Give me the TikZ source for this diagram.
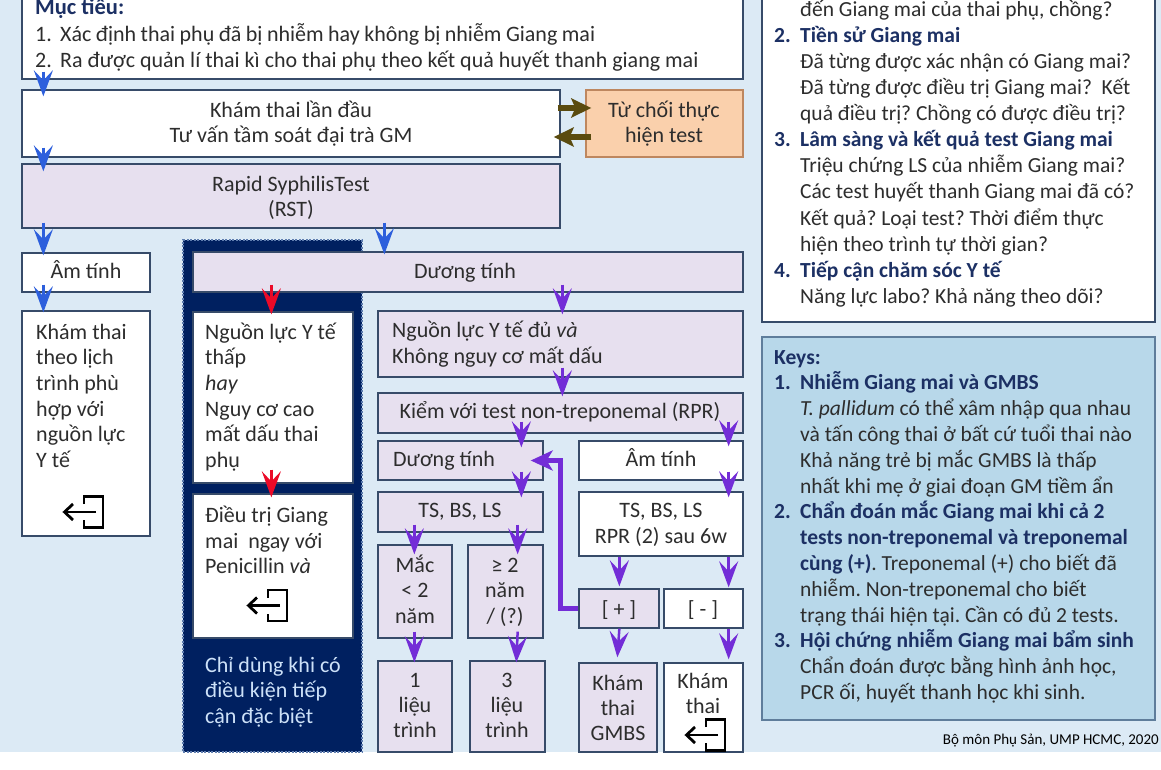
\documentclass[tikz,border=0pt]{standalone}
\usepackage{fontspec}
\setmainfont{Carlito}
\usetikzlibrary{arrows.meta,fit}
\frenchspacing
\definecolor{bg}{RGB}{220,234,245}
\definecolor{lav}{RGB}{231,224,239}
\definecolor{bord}{RGB}{55,75,105}
\definecolor{orangef}{RGB}{250,208,172}
\definecolor{orangeb}{RGB}{190,135,95}
\definecolor{navy}{RGB}{0,32,96}
\definecolor{navyb}{RGB}{95,125,175}
\definecolor{navytxt}{RGB}{205,225,248}
\definecolor{keysf}{RGB}{184,216,234}
\definecolor{keysb}{RGB}{95,125,155}
\definecolor{hd}{RGB}{28,48,100}
\definecolor{txt}{RGB}{45,45,45}
\definecolor{bluea}{RGB}{45,95,220}
\definecolor{purpa}{RGB}{115,45,215}
\definecolor{reda}{RGB}{235,10,40}
\definecolor{olive}{RGB}{90,75,15}
\newcommand\fs{\fontsize{22}{26}\selectfont}
\newcommand\fr{\fontsize{21.5}{26}\selectfont}
\newcounter{txn}
\newcommand\txl[4][]{\stepcounter{txn}\node[tline,#1] (t\arabic{txn}) at (#2,#3) {#4};}
\newcommand\txc[4][]{\stepcounter{txn}\node[tline,anchor=base,#1] (t\arabic{txn}) at (#2,#3) {#4};}
\tikzset{
  box/.style={draw=bord, line width=1.3pt, inner sep=0pt, fill=white},
  lbox/.style={box, fill=lav},
  tline/.style={anchor=base west, inner sep=0pt, font=\fs, text=txt},
  rt/.style={font=\fr},
  hdb/.style={font=\fr\bfseries, text=hd},
  arrbase/.style={line width=2.5pt, -{Stealth[length=26pt,width=19pt,inset=10pt]}},
  barr/.style={arrbase, draw=bluea},
  parr/.style={arrbase, draw=purpa},
  rarr/.style={arrbase, draw=reda},
  oarr/.style={draw=olive, line width=6pt, -{Stealth[length=20pt,width=19pt,inset=4pt]}},
  pthick/.style={draw=purpa, line width=5.5pt, -{Stealth[length=22pt,width=20pt,inset=6pt]}},
  exiticon/.pic={
    \draw[line width=2.8pt, line join=miter] (0,-8) -- (0,-15.5) -- (19,-15.5) -- (19,15.5) -- (0,15.5) -- (0,8);
    \draw[line width=2.8pt] (12,0) -- (-19,0);
    \draw[line width=2.8pt, line join=miter] (-11,-8) -- (-19.5,0) -- (-11,8);
  }
}
\begin{document}
\begin{tikzpicture}[x=1pt,y=-1pt]
\useasboundingbox (0,0) rectangle (1161,770);
\clip (0,0) rectangle (1161,770);
\fill[bg] (0,0) rectangle (1161,752);

% ---------- boxes ----------
\node[box, fit={(22,-40)(743,79)}] (mt) {};
\node[box, fit={(22,90)(560,157)}] (kham) {};
\node[box, fill=orangef, draw=orangeb, fit={(586,90)(743,157)}] (tuchoi) {};
\node[lbox, fit={(22,164)(560,228)}] (rst) {};
\node[box, fit={(22,253)(150,292)}] (am1) {};
\node[box, fit={(22,311)(150,536)}] (khamlich) {};
\node[fill=navy, draw=navyb, line width=1.2pt, dash pattern=on 2pt off 1.5pt, inner sep=0pt, fit={(183,240)(362,752)}] (navy) {};
\node[lbox, fit={(193,252)(743,292)}] (duong1) {};
\node[box, fit={(193,312)(353,483)}] (thap) {};
\node[box, fit={(193,494)(353,638)}] (dieutri) {};
\node[lbox, fit={(378,311)(743,377)}] (du) {};
\node[lbox, fit={(378,393)(743,433)}] (kiem) {};
\node[lbox, fit={(378,441)(543,480)}] (duong2) {};
\node[box, fit={(579,441)(743,480)}] (am2) {};
\node[lbox, fit={(378,492)(543,532)}] (ts1) {};
\node[box, fit={(579,492)(743,556)}] (ts2) {};
\node[lbox, fit={(378,545)(452,638)}] (mac) {};
\node[lbox, fit={(468,545)(543,638)}] (ge2) {};
\node[lbox, fit={(579,589)(659,628)}] (plus) {};
\node[box, fit={(664,589)(743,628)}] (minus) {};
\node[lbox, fit={(378,661)(452,752)}] (l1) {};
\node[lbox, fit={(470,661)(545,752)}] (l3) {};
\node[lbox, fit={(579,663)(657,752)}] (gmbs) {};
\node[box, fit={(664,663)(743,752)}] (kt) {};
\node[box, fit={(762,-40)(1155,322)}] (rtop) {};
\node[box, fill=keysf, draw=keysb, fit={(762,337)(1155,720)}] (keys) {};
\fill[white] (0,753) rectangle (1161,770);

% ---------- texts ----------
\txl[font=\fontsize{22.5}{26}\selectfont\bfseries, text=hd]{35}{15}{Mục tiêu:}
\txl{35}{42}{1.}\txl{60}{42}{\makebox[535pt][s]{Xác định thai phụ đã bị nhiễm hay không bị nhiễm Giang mai}}
\txl{35}{68}{2.}\txl{60}{68}{Ra được quản lí thai kì cho thai phụ theo kết quả huyết thanh giang mai}

\txc{291}{118}{Khám thai lần đầu}
\txc{291}{143}{Tư vấn tầm soát đại trà GM}
\txc{664}{118}{Từ chối thực}
\txc{664}{143}{hiện test}
\txc{291}{192}{Rapid SyphilisTest}
\txc{291}{216}{(RST)}
\txc{86}{278}{Âm tính}

\txl{36}{339}{Khám thai}
\txl{36}{364.7}{theo lịch}
\txl{36}{390.4}{trình phù}
\txl{36}{416.1}{hợp với}
\txl{36}{441.8}{nguồn lực}
\txl{36}{467.5}{Y tế}

\txc{465}{278}{Dương tính}
\txl{205}{339}{Nguồn lực Y tế}
\txl{205}{364.7}{thấp}
\txl{205}{390.4}{\itshape hay}
\txl{205}{416.1}{Nguy cơ cao}
\txl{205}{441.8}{mất dấu thai}
\txl{205}{467.5}{phụ}

\txl{205}{522}{Điều trị Giang}
\txl{205}{548}{mai~ ngay với}
\txl{205}{573}{Penicillin \textit{và}}
\txl[text=navytxt]{205}{672}{Chỉ dùng khi có}
\txl[text=navytxt]{205}{697}{điều kiện tiếp}
\txl[text=navytxt]{205}{723}{cận đặc biệt}

\txl{392}{337}{Nguồn lực Y tế đủ \textit{và}}
\txl{392}{363}{Không nguy cơ mất dấu}
\txc{560}{418}{Kiểm với test non-treponemal (RPR)}
\txl{393}{466}{Dương tính}
\txc{661}{466}{Âm tính}
\txc{460}{517}{TS, BS, LS}
\txc{661}{517}{TS, BS, LS}
\txc{661}{543}{RPR (2) sau 6w}
\txc{415}{572}{Mắc}
\txc{415}{597}{< 2}
\txc{415}{623}{năm}
\txc{505}{572}{≥ 2}
\txc{505}{597}{năm}
\txc{505}{623}{/ (?)}
\txc{619}{616}{[ + ]}
\txc{703}{616}{[ - ]}
\txc{415}{687}{1}
\txc{415}{712}{liệu}
\txc{415}{737}{trình}
\txc{507}{687}{3}
\txc{507}{712}{liệu}
\txc{507}{737}{trình}
\txc{618}{690}{Khám}
\txc{618}{715}{thai}
\txc{618}{740}{GMBS}
\txc{703}{688}{Khám}
\txc{703}{713}{thai}

% right top panel
\txl[rt]{800}{17}{đến Giang mai của thai phụ, chồng?}
\txl[hdb]{774}{43}{2.}\txl[hdb]{800}{43}{Tiền sử Giang mai}
\txl[rt]{800}{69}{Đã từng được xác nhận có Giang mai?}
\txl[rt]{800}{95}{Đã từng được điều trị Giang mai?\ \ Kết}
\txl[rt]{800}{121}{quả điều trị? Chồng có được điều trị?}
\txl[hdb]{774}{147}{3.}\txl[hdb]{800}{147}{Lâm sàng và kết quả test Giang mai}
\txl[rt]{800}{173}{Triệu chứng LS của nhiễm Giang mai?}
\txl[rt]{800}{199}{Các test huyết thanh Giang mai đã có?}
\txl[rt]{800}{225}{Kết quả? Loại test? Thời điểm thực}
\txl[rt]{800}{251}{hiện theo trình tự thời gian?}
\txl[hdb]{774}{277}{4.}\txl[hdb]{800}{277}{Tiếp cận chăm sóc Y tế}
\txl[rt]{800}{303}{Năng lực labo? Khả năng theo dõi?}

% keys
\txl[hdb]{774}{364}{Keys:}
\txl[hdb]{774}{389.8}{1.}\txl[hdb]{800}{389.8}{Nhiễm Giang mai và GMBS}
\txl[rt]{800}{415.6}{\textit{T. pallidum} có thể xâm nhập qua nhau}
\txl[rt]{800}{441.4}{và tấn công thai ở bất cứ tuổi thai nào}
\txl[rt]{800}{467.2}{Khả năng trẻ bị mắc GMBS là thấp}
\txl[rt]{800}{493}{nhất khi mẹ ở giai đoạn GM tiềm ẩn}
\txl[hdb]{774}{518.8}{2.}\txl[hdb]{800}{518.8}{Chẩn đoán mắc Giang mai khi cả 2}
\txl[hdb]{800}{544.6}{tests non-treponemal và treponemal}
\txl[rt]{800}{570.4}{\textcolor{hd}{\bfseries cùng (+)}. Treponemal (+) cho biết đã}
\txl[rt]{800}{596.2}{nhiễm. Non-treponemal cho biết}
\txl[rt]{800}{622}{trạng thái hiện tại. Cần có đủ 2 tests.}
\txl[hdb]{774}{647.8}{3.}\txl[hdb]{800}{647.8}{Hội chứng nhiễm Giang mai bẩm sinh}
\txl[rt]{800}{673.6}{Chẩn đoán được bằng hình ảnh học,}
\txl[rt]{800}{699.4}{PCR ối, huyết thanh học khi sinh.}

\txl[anchor=base east, font=\fontsize{15}{18}\selectfont, text=black]{1159}{744}{Bộ môn Phụ Sản, UMP HCMC, 2020}

% ---------- icons ----------
\pic (ic1) at (84,512) {exiticon};
\pic (ic2) at (268,605.5) {exiticon};
\pic (ic3) at (706,735) {exiticon};

% ---------- arrows ----------
\draw[barr] ([xshift=22pt,yshift=8pt]mt.south west) -- ([xshift=22pt,yshift=-7pt]kham.north west);
\draw[barr] ([xshift=22pt,yshift=10pt]kham.south west) -- ([xshift=22pt,yshift=-8pt]rst.north west);
\draw[barr] ([xshift=22pt,yshift=6pt]rst.south west) -- ([xshift=22pt,yshift=-3pt]am1.north west);
\draw[barr] ([xshift=363pt,yshift=6pt]rst.south west) -- ([xshift=192pt,yshift=-3pt]duong1.north west);
\draw[barr] ([xshift=22pt,yshift=8pt]am1.south west) -- ([xshift=22pt,yshift=-2pt]khamlich.north west);

\draw[oarr] ([yshift=15.5pt,xshift=-3pt]kham.east) -- ([yshift=15.5pt,xshift=6pt]tuchoi.west);
\draw[oarr] ([yshift=-13.5pt,xshift=6pt]tuchoi.west) -- ([yshift=-13.5pt,xshift=-7pt]kham.east);

\draw[rarr] ([xshift=79pt,yshift=8pt]duong1.south west) -- ([xshift=79pt,yshift=-3pt]thap.north west);
\draw[rarr] ([xshift=79pt,yshift=14pt]thap.south west) -- ([xshift=79pt,yshift=-4pt]dieutri.north west);

\draw[parr] ([xshift=370pt,yshift=8pt]duong1.south west) -- ([xshift=185pt,yshift=-4pt]du.north west);
\draw[parr] ([xshift=185pt,yshift=10pt]du.south west) -- ([xshift=185pt,yshift=-4pt]kiem.north west);
\draw[parr] ([xshift=144pt,yshift=12pt]kiem.south west) -- ([xshift=144pt,yshift=-7pt]duong2.north west);
\draw[parr] ([xshift=-15pt,yshift=12pt]kiem.south east) -- ([xshift=-15pt,yshift=-6pt]am2.north east);
\draw[parr] ([xshift=144pt,yshift=9pt]duong2.south west) -- ([xshift=144pt,yshift=-6pt]ts1.north west);
\draw[parr] ([xshift=-15pt,yshift=9pt]am2.south east) -- ([xshift=-15pt,yshift=-6pt]ts2.north east);
\draw[parr] ([xshift=37pt,yshift=8pt]ts1.south west) -- ([xshift=37pt,yshift=-10pt]mac.north west);
\draw[parr] ([xshift=-26pt,yshift=8pt]ts1.south east) -- ([xshift=-26pt,yshift=-10pt]ge2.north east);
\draw[parr] ([xshift=37pt,yshift=7pt]mac.south west) -- ([xshift=37pt,yshift=-2pt]l1.north west);
\draw[parr] ([xshift=-26pt,yshift=7pt]ge2.south east) -- ([xshift=47pt,yshift=-2pt]l3.north west);
\draw[parr] ([xshift=41pt,yshift=0pt]ts2.south west) -- ([xshift=41pt,yshift=2pt]plus.north west);
\draw[parr] ([xshift=-15pt,yshift=0pt]ts2.south east) -- ([xshift=-15pt,yshift=1pt]minus.north east);
\draw[parr] ([xshift=41pt,yshift=0pt]plus.south west) -- ([xshift=39pt,yshift=5pt]gmbs.north west);
\draw[parr] ([xshift=-15pt,yshift=0pt]minus.south east) -- ([xshift=-15pt,yshift=3pt]kt.north east);

\draw[pthick] (plus.west) -- ++(-18,0) |- ([xshift=-13pt]duong2.east);
\end{tikzpicture}
\end{document}
